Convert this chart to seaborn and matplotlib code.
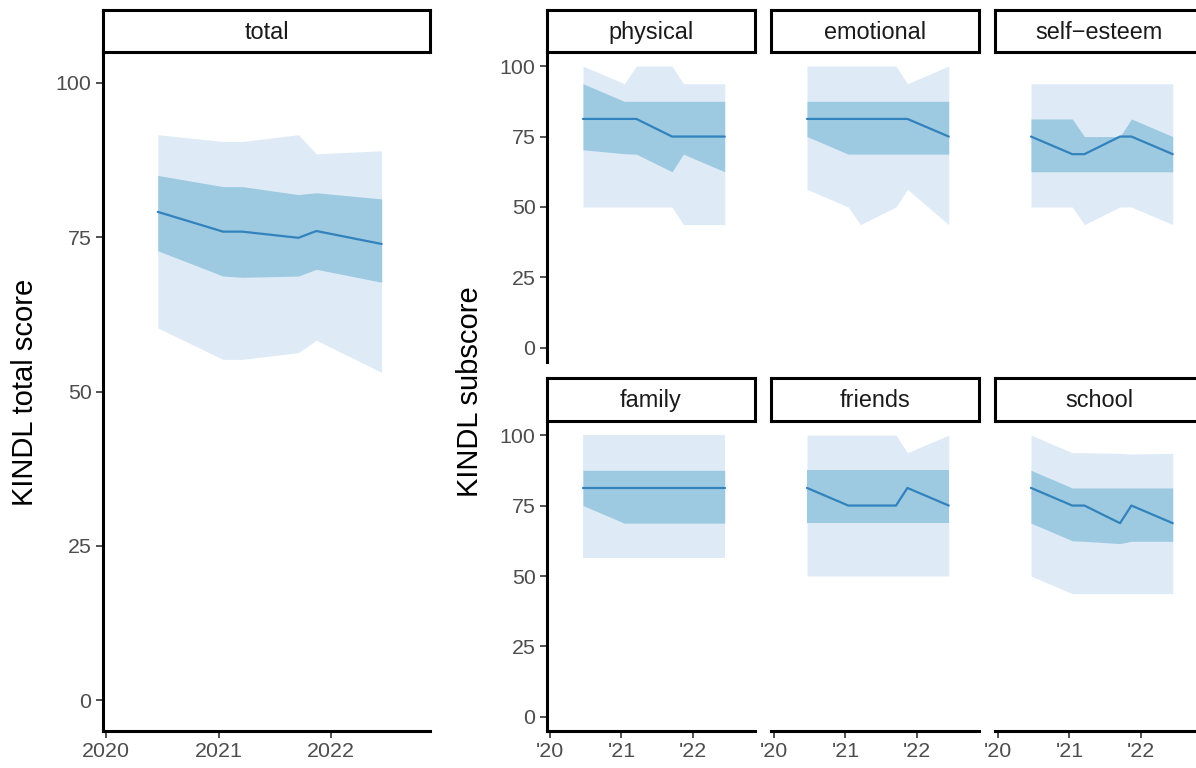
import numpy as np
import pandas as pd
import matplotlib
matplotlib.use("Agg")
import matplotlib.pyplot as plt
import seaborn as sns

# measurement waves (decimal years)
times = [2020.46, 2021.04, 2021.21, 2021.71, 2021.87, 2022.45]

# total score: median, 25/75 and 10/90 percentiles
total_median = [79.1, 75.9, 75.9, 74.9, 76.0, 73.9]
total_q25 = [72.8, 68.7, 68.5, 68.7, 69.8, 67.7]
total_q75 = [85.0, 83.2, 83.2, 81.9, 82.2, 81.2]
total_q10 = [60.3, 55.2, 55.2, 56.3, 58.3, 53.1]
total_q90 = [91.6, 90.5, 90.5, 91.6, 88.5, 89.0]

# subscores
subscales = ["physical", "emotional", "self\u2212esteem", "family", "friends", "school"]
physical_median = [81.25, 81.25, 81.25, 75, 75, 75]
physical_q25 = [70.3, 68.9, 68.75, 62.5, 68.75, 62.5]
physical_q75 = [93.75, 87.5, 87.5, 87.5, 87.5, 87.5]
physical_q10 = [50, 50, 50, 50, 43.75, 43.75]
physical_q90 = [100, 93.75, 100, 100, 93.75, 93.75]

emotional_median = [81.25, 81.25, 81.25, 81.25, 81.25, 75]
emotional_q25 = [75, 68.75, 68.75, 68.75, 68.75, 68.75]
emotional_q75 = [87.5, 87.5, 87.5, 87.5, 87.5, 87.5]
emotional_q10 = [56.25, 50, 43.75, 50, 56.25, 43.75]
emotional_q90 = [100, 100, 100, 100, 93.75, 100]

selfesteem_median = [75, 68.75, 68.75, 75, 75, 68.75]
selfesteem_q25 = [62.5, 62.5, 62.5, 62.5, 62.5, 62.5]
selfesteem_q75 = [81.25, 81.25, 75, 75, 81.25, 75]
selfesteem_q10 = [50, 50, 43.75, 50, 50, 43.75]
selfesteem_q90 = [93.75, 93.75, 93.75, 93.75, 93.75, 93.75]

family_median = [81.25, 81.25, 81.25, 81.25, 81.25, 81.25]
family_q25 = [75, 68.75, 68.75, 68.75, 68.75, 68.75]
family_q75 = [87.5, 87.5, 87.5, 87.5, 87.5, 87.5]
family_q10 = [56.25, 56.25, 56.25, 56.25, 56.25, 56.25]
family_q90 = [100, 100, 100, 100, 100, 100]

friends_median = [81.25, 75, 75, 75, 81.25, 75]
friends_q25 = [68.75, 68.75, 68.75, 68.75, 68.75, 68.75]
friends_q75 = [87.5, 87.5, 87.5, 87.5, 87.5, 87.5]
friends_q10 = [50, 50, 50, 50, 50, 50]
friends_q90 = [100, 100, 100, 100, 93.75, 100]

school_median = [81.25, 75, 75, 68.75, 75, 68.75]
school_q25 = [68.75, 62.5, 62.3, 61.5, 62.3, 62.3]
school_q75 = [87.5, 81.25, 81.25, 81.25, 81.25, 81.25]
school_q10 = [50, 43.75, 43.75, 43.75, 43.75, 43.75]
school_q90 = [100, 93.75, 93.75, 93.5, 93.3, 93.5]

sub_data = {
    "physical": (physical_median, physical_q25, physical_q75, physical_q10, physical_q90),
    "emotional": (emotional_median, emotional_q25, emotional_q75, emotional_q10, emotional_q90),
    "self\u2212esteem": (selfesteem_median, selfesteem_q25, selfesteem_q75, selfesteem_q10, selfesteem_q90),
    "family": (family_median, family_q25, family_q75, family_q10, family_q90),
    "friends": (friends_median, friends_q25, friends_q75, friends_q10, friends_q90),
    "school": (school_median, school_q25, school_q75, school_q10, school_q90),
}

LIGHT = "#deebf7"
DARK = "#9ecae1"
LINE = "#3182bd"
TICK_TXT = "#4d4d4d"
TICK_COL = "#333333"

sns.set_theme(style="ticks")
plt.rcParams["font.family"] = ["Liberation Sans", "DejaVu Sans"]

W, H = 1196, 768
fig = plt.figure(figsize=(W / 100, H / 100), dpi=100)


def px_axes(x0, y0, x1, y1):
    # pixel box (top-left origin) -> figure axes
    return fig.add_axes([x0 / W, (H - y1) / H, (x1 - x0) / W, (y1 - y0) / H])


def add_strip(x0, y0, x1, y1, label):
    s = px_axes(x0, y0, x1, y1)
    s.set_xticks([])
    s.set_yticks([])
    s.set_facecolor("white")
    for sp in s.spines.values():
        sp.set_linewidth(2.2)
        sp.set_color("black")
    s.text(0.5, 0.47, label, ha="center", va="center", fontsize=16.9, color="#1a1a1a",
           transform=s.transAxes)


def draw_panel(ax, med, q25, q75, q10, q90):
    df = pd.DataFrame({"time": times, "median": med, "q25": q25, "q75": q75,
                       "q10": q10, "q90": q90})
    ax.fill_between(df["time"], df["q10"], df["q90"], color=LIGHT, linewidth=0)
    ax.fill_between(df["time"], df["q25"], df["q75"], color=DARK, linewidth=0)
    sns.lineplot(data=df, x="time", y="median", ax=ax, color=LINE, linewidth=1.6)
    ax.set_ylim(-5, 105)
    ax.set_yticks([0, 25, 50, 75, 100])
    ax.set_xticks([2020, 2021, 2022])
    ax.set_xlabel("")
    ax.set_ylabel("")
    ax.tick_params(length=4.7, width=1.2, color=TICK_COL, labelcolor=TICK_TXT,
                   labelsize=15.4, pad=3.5)
    for sp in ["top", "right"]:
        ax.spines[sp].set_visible(False)
    for sp in ["left", "bottom"]:
        ax.spines[sp].set_linewidth(2.2)
        ax.spines[sp].set_color("black")


# left: total score
ax_total = px_axes(103, 52, 430, 731)
draw_panel(ax_total, total_median, total_q25, total_q75, total_q10, total_q90)
ax_total.set_xlim(2019.973, 2022.88)
ax_total.set_xticklabels(["2020", "2021", "2022"])
add_strip(103, 10, 430, 52, "total")

# right: subscores
col_x = [547, 771, 995]
col_w = 208
rows = [(10, 52, 362), (378, 421, 731)]
for i, name in enumerate(subscales):
    r, c = divmod(i, 3)
    sy0, py0, py1 = rows[r]
    x0 = col_x[c]
    ax = px_axes(x0, py0, x0 + col_w, py1)
    draw_panel(ax, *sub_data[name])
    ax.set_xlim(2019.955, 2022.875)
    ax.set_xticklabels(["'20", "'21", "'22"])
    if c > 0:
        ax.spines["left"].set_visible(False)
        ax.tick_params(axis="y", left=False, labelleft=False)
    if r == 0:
        ax.spines["bottom"].set_visible(False)
        ax.tick_params(axis="x", bottom=False, labelbottom=False)
    add_strip(x0, sy0, x0 + col_w, py0, name)

fig.text(25 / W, (H - 392) / H, "KINDL total score", rotation=90, ha="center", va="center",
         fontsize=21, color="black")
fig.text(470 / W, (H - 392) / H, "KINDL subscore", rotation=90, ha="center", va="center",
         fontsize=21, color="black")

fig.savefig("out.png", dpi=100)
